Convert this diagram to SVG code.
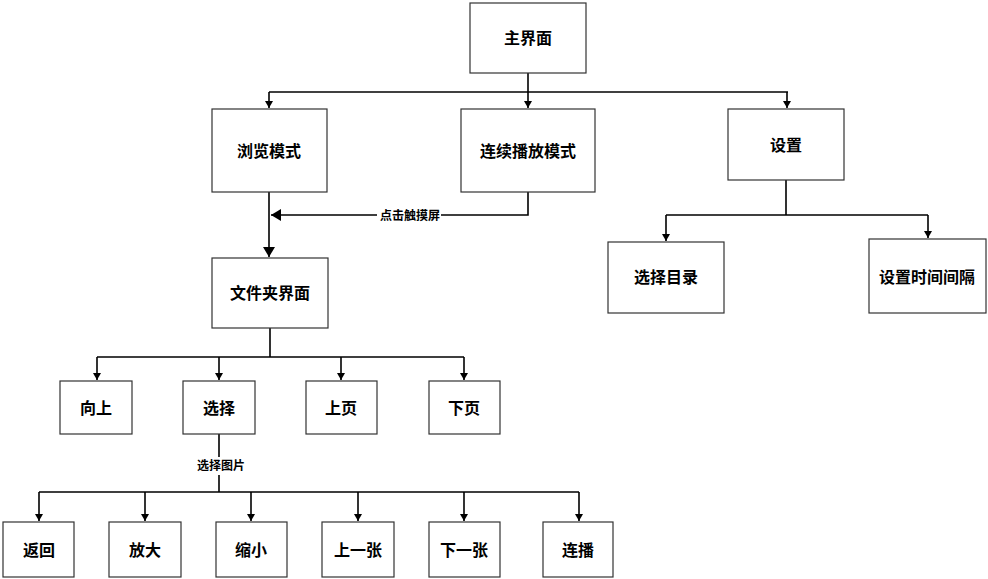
<svg xmlns="http://www.w3.org/2000/svg" width="988" height="579" viewBox="0 0 988 579">
<style>
.box{fill:#fff;stroke:#333;stroke-width:1.2}
.t{font-family:"Liberation Sans","Noto Sans CJK SC",sans-serif;font-weight:bold;font-size:16px;text-anchor:middle;dominant-baseline:central;fill:#000}
.lbl{font-family:"Liberation Sans","Noto Sans CJK SC",sans-serif;font-weight:bold;font-size:12px;text-anchor:middle;dominant-baseline:central;fill:#000}
.c{fill:none;stroke:#000;stroke-width:1.6}
</style>
<defs>
<marker id="a" markerUnits="userSpaceOnUse" markerWidth="10" markerHeight="8" refX="7" refY="4" orient="auto" viewBox="0 0 8 8"><path d="M0,0 L7,4 L0,8 z" fill="#000"/></marker>
<marker id="b" markerUnits="userSpaceOnUse" markerWidth="12" markerHeight="12" refX="10" refY="6" orient="auto" viewBox="0 0 10 12"><path d="M0,0 L10,6 L0,12 z" fill="#000"/></marker>
</defs>
<g id="connectors">
<path class="c" d="M528,73 V92"/>
<path class="c" d="M269,92 H788"/>
<path class="c" d="M269,92 V108" marker-end="url(#a)"/>
<path class="c" d="M528,92 V108" marker-end="url(#a)"/>
<path class="c" d="M787,92 V108" marker-end="url(#a)"/>
<path class="c" d="M786,180 V215 M666,215 H928"/>
<path class="c" d="M666,215 V241" marker-end="url(#a)"/>
<path class="c" d="M928,215 V238" marker-end="url(#a)"/>
<path class="c" d="M269,192 V257" marker-end="url(#b)"/>
<path class="c" d="M528,192 V215 H441 M377,215 H271" marker-end="url(#b)"/>
<text class="lbl" x="410" y="216">点击触摸屏</text>
<path class="c" d="M270,328 V357 M97,357 H464"/>
<path class="c" d="M97,357 V380" marker-end="url(#a)"/>
<path class="c" d="M219,357 V380" marker-end="url(#a)"/>
<path class="c" d="M341,357 V380" marker-end="url(#a)"/>
<path class="c" d="M464,357 V380" marker-end="url(#a)"/>
<path class="c" d="M219,434 V457 M219,475 V492 M39,492 H579"/>
<text class="lbl" x="221" y="466">选择图片</text>
<path class="c" d="M39,492 V521" marker-end="url(#a)"/>
<path class="c" d="M145,492 V521" marker-end="url(#a)"/>
<path class="c" d="M251,492 V521" marker-end="url(#a)"/>
<path class="c" d="M358,492 V521" marker-end="url(#a)"/>
<path class="c" d="M464,492 V521" marker-end="url(#a)"/>
<path class="c" d="M579,492 V521" marker-end="url(#a)"/>
</g>
<g id="n_main"><rect class="box" x="470" y="3" width="116" height="70"/><text class="t" x="528" y="38">主界面</text></g>
<g id="n_browse"><rect class="box" x="212" y="109" width="115" height="83"/><text class="t" x="269" y="151">浏览模式</text></g>
<g id="n_play"><rect class="box" x="461" y="109" width="134" height="83"/><text class="t" x="528" y="151">连续播放模式</text></g>
<g id="n_settings"><rect class="box" x="728" y="109" width="116" height="71"/><text class="t" x="786" y="145">设置</text></g>
<g id="n_dir"><rect class="box" x="608" y="242" width="116" height="71"/><text class="t" x="666" y="277">选择目录</text></g>
<g id="n_interval"><rect class="box" x="869" y="239" width="117" height="74"/><text class="t" x="927" y="277">设置时间间隔</text></g>
<g id="n_folder"><rect class="box" x="212" y="258" width="116" height="70"/><text class="t" x="270" y="293">文件夹界面</text></g>
<g id="n_up"><rect class="box" x="60" y="381" width="72" height="53"/><text class="t" x="96" y="408">向上</text></g>
<g id="n_select"><rect class="box" x="183" y="381" width="72" height="53"/><text class="t" x="219" y="408">选择</text></g>
<g id="n_pgup"><rect class="box" x="306" y="381" width="71" height="53"/><text class="t" x="341" y="408">上页</text></g>
<g id="n_pgdn"><rect class="box" x="429" y="381" width="71" height="53"/><text class="t" x="464" y="408">下页</text></g>
<g id="n_back"><rect class="box" x="3" y="522" width="71" height="55"/><text class="t" x="39" y="550">返回</text></g>
<g id="n_zoomin"><rect class="box" x="109" y="522" width="72" height="55"/><text class="t" x="145" y="550">放大</text></g>
<g id="n_zoomout"><rect class="box" x="216" y="522" width="71" height="55"/><text class="t" x="251" y="550">缩小</text></g>
<g id="n_prev"><rect class="box" x="322" y="522" width="72" height="55"/><text class="t" x="358" y="550">上一张</text></g>
<g id="n_next"><rect class="box" x="429" y="522" width="71" height="55"/><text class="t" x="464" y="550">下一张</text></g>
<g id="n_slide"><rect class="box" x="543" y="522" width="70" height="55"/><text class="t" x="578" y="550">连播</text></g>
</svg>
